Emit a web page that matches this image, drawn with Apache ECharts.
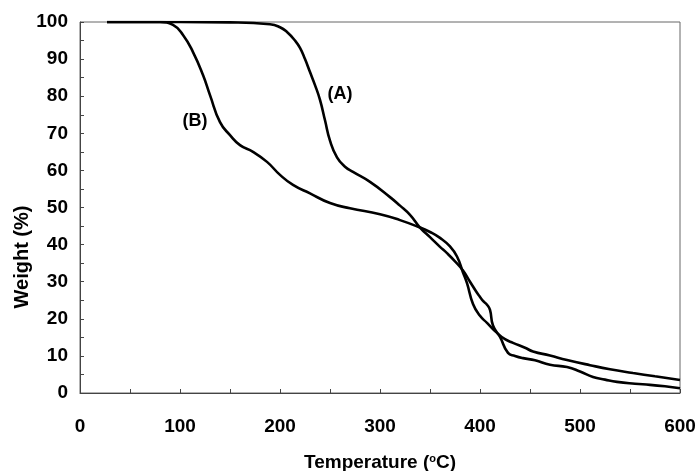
<!DOCTYPE html>
<html>
<head>
<meta charset="utf-8">
<script src="https://cdn.jsdelivr.net/npm/echarts@6/dist/echarts.min.js"></script>
<style>html,body{margin:0;padding:0;background:#fff;}#c{width:699px;height:471px;}</style>
</head>
<body>
<div id="c"></div>
<script>
const tempA = [27, 100, 150, 190, 200, 207, 215, 220, 225, 230, 235, 240, 245, 250, 257, 265, 273, 290, 310, 320, 330, 340, 350, 360, 367, 375, 383, 390, 397, 400, 403, 407, 410, 413, 420, 428, 435, 443, 455, 470, 487, 500, 513, 525, 537, 555, 570, 585, 600];
const weightA = [100, 100, 99.9, 99.4, 98.6, 97.3, 95, 93, 90, 86.5, 83, 79, 73.5, 68, 63.5, 61, 59.6, 56.9, 52.8, 50.5, 48, 44.6, 42, 39.4, 37.7, 35.5, 33, 30, 27, 25.9, 24.8, 23.8, 22.4, 18.2, 15.1, 10.8, 10, 9.4, 8.8, 7.6, 7, 5.8, 4.3, 3.6, 3, 2.5, 2.2, 1.8, 1.3];
const tempB = [27, 80, 93, 103, 113, 123, 130, 140, 150, 160, 173, 187, 200, 213, 230, 250, 270, 300, 320, 340, 350, 360, 370, 377, 383, 387, 393, 400, 407, 417, 425, 433, 445, 453, 470, 487, 510, 530, 553, 575, 600];
const weightB = [100, 100, 99.2, 96.5, 91.9, 85.7, 80.3, 73, 69.5, 66.8, 65, 62.3, 58.8, 56.1, 53.8, 51.2, 49.8, 48.2, 46.6, 44.6, 43.4, 41.8, 39.5, 36.8, 32.5, 29.6, 24, 20.8, 18.9, 16.2, 14.5, 13.5, 12.2, 11.2, 10.1, 8.9, 7.5, 6.4, 5.4, 4.5, 3.5];
const labelA = {text: '(A)', x: 260, y: 80.7};
const labelB = {text: '(B)', x: 115, y: 73.3};

const FONT = '"Liberation Sans", Arial, sans-serif';
const chart = echarts.init(document.getElementById('c'), null, {renderer: 'canvas'});
const pairs = (xs, ys) => xs.map((x, i) => [x, ys[i]]);
const lbl = (l) => ({
  coord: [l.x, l.y], symbol: 'circle', symbolSize: 0,
  label: {show: true, formatter: l.text, position: 'inside', color: '#000', fontSize: 18, fontWeight: 'bold', fontFamily: FONT}
});
chart.setOption({
  animation: false,
  backgroundColor: '#fff',
  grid: {left: 80, right: 19, top: 22, bottom: 78, show: true, borderColor: '#666', borderWidth: 1, backgroundColor: 'transparent'},
  xAxis: {
    type: 'value', min: 0, max: 600, interval: 50,
    axisLine: {show: true, lineStyle: {color: '#444', width: 1}},
    axisTick: {show: true, inside: true, length: 4, lineStyle: {color: '#444'}},
    splitLine: {show: false},
    axisLabel: {margin: 24, color: '#000', fontSize: 19, fontWeight: 'bold', fontFamily: FONT,
      formatter: v => (v % 100 === 0 ? String(v) : '')}
  },
  yAxis: {
    type: 'value', min: 0, max: 100, interval: 5,
    axisLine: {show: true, lineStyle: {color: '#444', width: 1}},
    axisTick: {show: true, inside: true, length: 4, lineStyle: {color: '#444'}},
    splitLine: {show: false},
    axisLabel: {margin: 12, color: '#000', fontSize: 19, fontWeight: 'bold', fontFamily: FONT,
      formatter: v => (v % 10 === 0 ? String(v) : '')}
  },
  series: [
    {type: 'line', name: 'A', data: pairs(tempA, weightA), smooth: 0.5, showSymbol: false,
      lineStyle: {color: '#000', width: 2.6}, markPoint: {data: [lbl(labelA)]}},
    {type: 'line', name: 'B', data: pairs(tempB, weightB), smooth: 0.5, showSymbol: false,
      lineStyle: {color: '#000', width: 2.6}, markPoint: {data: [lbl(labelB)]}}
  ],
  graphic: [
    {type: 'text', x: 380, y: 463, style: {
      text: 'Temperature ({s|o}C)', align: 'center', verticalAlign: 'middle',
      font: 'bold 19px ' + FONT, fill: '#000',
      rich: {s: {fontSize: 11, fontWeight: 'bold', fontFamily: FONT, verticalAlign: 'top', padding: [0, 0, 9, 0]}}
    }},
    {type: 'text', x: 22, y: 257, rotation: Math.PI / 2, style: {
      text: 'Weight (%)', align: 'center', verticalAlign: 'middle',
      font: 'bold 20px ' + FONT, fill: '#000'
    }}
  ]
});
</script>
</body>
</html>
